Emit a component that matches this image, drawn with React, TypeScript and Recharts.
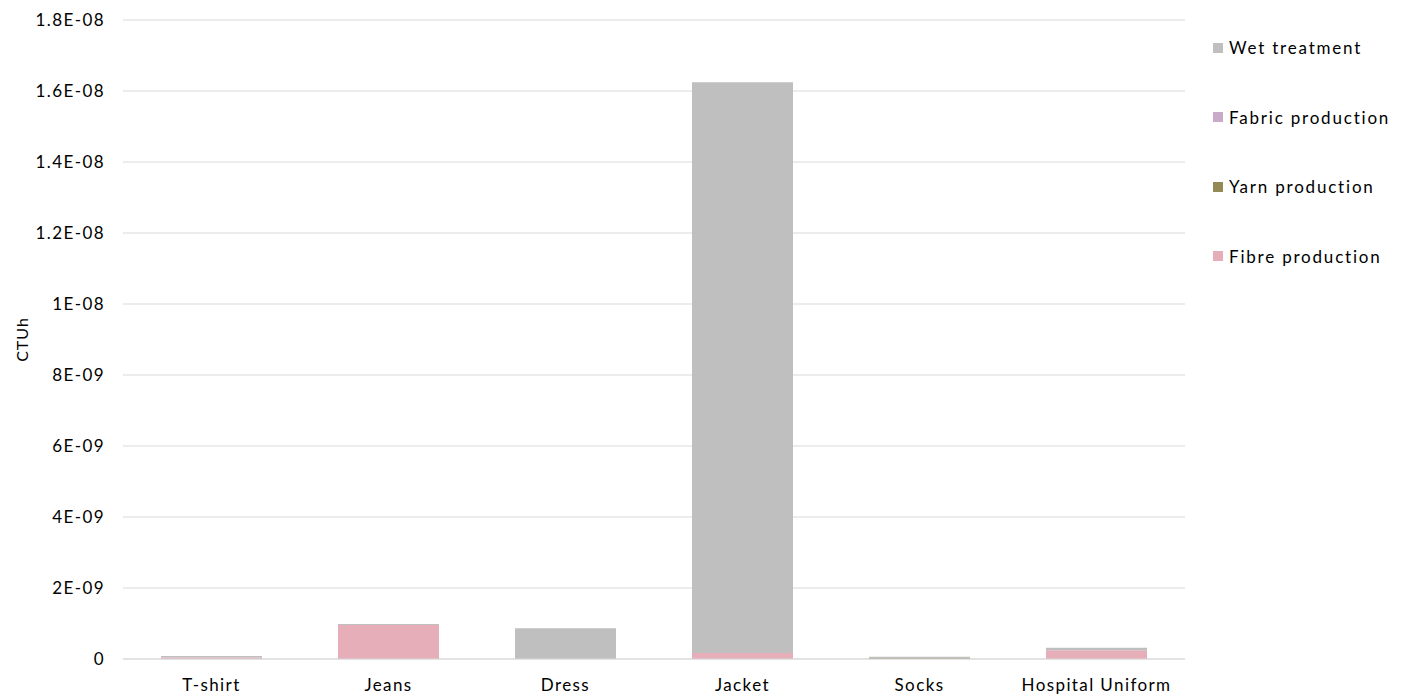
import { Bar, BarChart, CartesianGrid, XAxis, YAxis } from "recharts";

const garments = ["T-shirt", "Jeans", "Dress", "Jacket", "Socks", "Hospital Uniform"];
const fibreProduction = [4e-11, 9.6e-10, 0, 1.7e-10, 0, 2.5e-10];
const yarnProduction = [0, 0, 0, 0, 2e-11, 0];
const fabricProduction = [5e-12, 0, 0, 0, 0, 0];
const wetTreatment = [4e-11, 2.5e-11, 8.65e-10, 1.608e-8, 4e-11, 7e-11];
const yTicks = [0, 2e-9, 4e-9, 6e-9, 8e-9, 1e-8, 1.2e-8, 1.4e-8, 1.6e-8, 1.8e-8];

const series = [
  { key: "fibre", name: "Fibre production", color: "#e6aeb8" },
  { key: "yarn", name: "Yarn production", color: "#948a54" },
  { key: "fabric", name: "Fabric production", color: "#c9abc9" },
  { key: "wet", name: "Wet treatment", color: "#bfbfbf" },
];

const data = garments.map((g, i) => ({
  name: g,
  fibre: fibreProduction[i],
  yarn: yarnProduction[i],
  fabric: fabricProduction[i],
  wet: wetTreatment[i],
}));

const FONT = "Lato, 'Open Sans', sans-serif";
const textStyle = { fill: "#000", fontSize: 17, fontFamily: FONT, letterSpacing: 1.4 };

// excel style scientific labels, e.g. 1.8E-08
function sci(v: number) {
  if (v === 0) return "0";
  const exp = Math.floor(Math.log10(v) + 1e-9);
  const m = parseFloat((v / Math.pow(10, exp)).toFixed(2));
  const e = Math.abs(exp).toString().padStart(2, "0");
  return `${m}E${exp < 0 ? "-" : "+"}${e}`;
}

function LegendBox() {
  const items = [...series].reverse();
  return (
    <div
      style={{
        position: "absolute",
        left: 1213,
        top: 13,
        fontFamily: FONT,
        fontSize: 17,
        color: "#000",
      }}
    >
      {items.map((s) => (
        <div
          key={s.key}
          style={{ display: "flex", alignItems: "center", height: 69.5, whiteSpace: "nowrap" }}
        >
          <span
            style={{
              width: 10,
              height: 10,
              background: s.color,
              display: "inline-block",
              marginRight: 6,
            }}
          />
          <span style={{ letterSpacing: 1.8 }}>{s.name}</span>
        </div>
      ))}
    </div>
  );
}

export default function App() {
  return (
    <div style={{ position: "absolute", left: 0, top: 0, width: 1408, height: 698, background: "#fff" }}>
      <BarChart
        width={1408}
        height={698}
        data={data}
        margin={{ top: 20, right: 223, left: 0, bottom: 0 }}
        barSize={101}
      >
        <CartesianGrid vertical={false} stroke="#d9d9d9" />
        <XAxis
          dataKey="name"
          height={39}
          tickLine={false}
          axisLine={{ stroke: "#d9d9d9" }}
          tick={textStyle}
          tickMargin={14}
          interval={0}
        />
        <YAxis
          width={123}
          domain={[0, 1.8e-8]}
          ticks={yTicks}
          tickFormatter={sci}
          tickLine={false}
          axisLine={false}
          tick={textStyle}
          tickMargin={12}
          label={{
            value: "CTUh",
            angle: -90,
            position: "insideLeft",
            offset: 22,
            style: { fill: "#000", fontSize: 16, fontFamily: FONT, textAnchor: "middle", letterSpacing: 1 },
          }}
        />
        {series.map((s) => (
          <Bar
            key={s.key}
            dataKey={s.key}
            name={s.name}
            stackId="a"
            fill={s.color}
            isAnimationActive={false}
          />
        ))}
      </BarChart>
      <LegendBox />
    </div>
  );
}
